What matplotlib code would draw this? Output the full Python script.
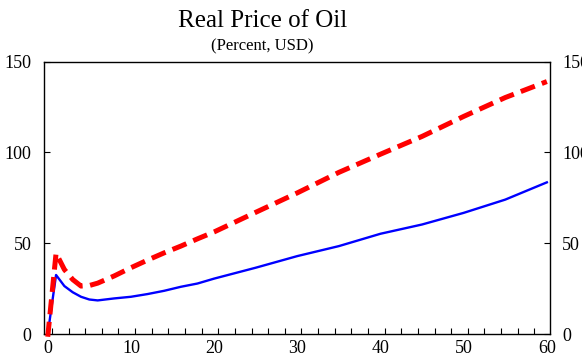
import matplotlib.pyplot as plt
from matplotlib.ticker import FixedLocator

# Periods (horizontal axis)
periods = [0, 1, 2, 3, 4, 5, 6, 8, 10, 12, 14, 16, 18, 20, 25, 30, 35, 40, 45, 50, 55, 60]

# Solid blue line
blue_vals = [0.0, 32.5, 26.4, 23.0, 20.5, 19.0, 18.5, 19.6, 20.5, 22.0, 23.8, 26.0, 27.8, 30.5,
             36.5, 42.9, 48.4, 55.2, 60.3, 66.7, 74.0, 83.5]

# Dashed red line
red_vals = [-1.5, 44.5, 35.5, 30.0, 26.4, 26.7, 28.0, 32.0, 36.5, 40.7, 44.7, 48.4, 52.4, 56.2,
            67.0, 77.7, 89.0, 99.0, 108.8, 119.8, 130.2, 139.0]

x_labels = [0, 10, 20, 30, 40, 50, 60]
y_ticks = [0, 50, 100, 150]

plt.rcParams['font.family'] = ['Liberation Serif', 'DejaVu Serif']

fig = plt.figure(figsize=(5.82, 3.58), dpi=100)
ax = fig.add_axes([0.0756, 0.067, 0.869, 0.761])

ax.plot(periods, blue_vals, color='#0000FF', lw=1.7, zorder=3)
ax.plot(periods, red_vals, color='#FF0000', lw=3.6, dashes=(3.0, 1.5),
        dash_capstyle='butt', clip_on=False, zorder=4)

ax.set_xlim(-0.45, 60.35)
ax.set_ylim(0, 150)

ax.set_xticks(x_labels)
ax.xaxis.set_minor_locator(FixedLocator([0.5 + 2 * k for k in range(30)]))
ax.tick_params(axis='x', which='major', length=0, labelsize=13, pad=4)
ax.tick_params(axis='x', which='minor', direction='in', length=4, width=0.8, top=False)

ax.set_yticks(y_ticks)
ax.tick_params(axis='y', which='major', direction='in', length=4.5, width=0.8,
               labelsize=13, pad=9, left=True, right=True, labelleft=True, labelright=True)

for s in ax.spines.values():
    s.set_linewidth(1.0)

fig.text(0.451, 0.942, 'Real Price of Oil', ha='center', va='center', fontsize=18)
fig.text(0.451, 0.870, '(Percent, USD)', ha='center', va='center', fontsize=12)

fig.savefig('out.png', dpi=100)
